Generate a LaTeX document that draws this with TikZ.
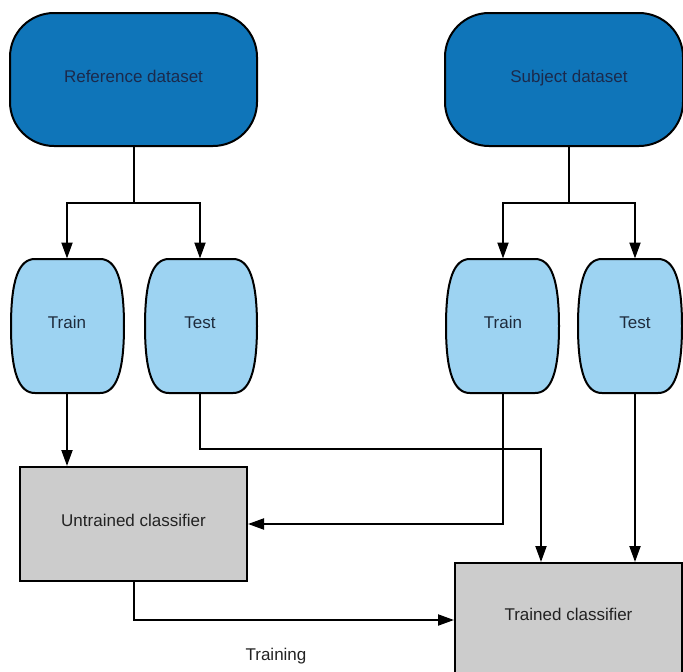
\documentclass[tikz,border=0pt]{standalone}
\usepackage{fontspec}
\setmainfont{Liberation Sans}
\usetikzlibrary{arrows.meta}
\definecolor{dsblue}{HTML}{0F75B9}
\definecolor{splitblue}{HTML}{9DD3F2}
\definecolor{clsgray}{HTML}{CCCCCC}
\definecolor{navytext}{HTML}{1B2A4C}
\definecolor{splittext}{HTML}{1E2B3C}
\definecolor{boxtext}{HTML}{222222}

% barrel-shaped data split outline: left x, right x (top 259, bottom 393)
\newcommand\splitshape[2]{%
  \draw[fill=splitblue]
    ({#1+24},259) -- ({#2-24},259)
    .. controls ({#2-8},259) and (#2,279) .. (#2,326)
    .. controls (#2,373) and ({#2-8},393) .. ({#2-24},393)
    -- ({#1+24},393)
    .. controls ({#1+8},393) and (#1,373) .. (#1,326)
    .. controls (#1,279) and ({#1+8},259) .. cycle;}

\begin{document}
\begin{tikzpicture}[x=1pt,y=-1pt,line width=2pt,
  lbl/.style={font=\fontsize{17}{20}\selectfont,inner sep=0pt,
    text height=12pt,text depth=7pt},
  dataset/.style={lbl,draw,fill=dsblue,text=navytext,rounded corners=44pt,
    minimum height=133pt},
  splitlbl/.style={lbl,text=splittext,minimum width=100pt,minimum height=133pt},
  classifier/.style={lbl,draw,fill=clsgray,text=boxtext,
    minimum width=227pt,minimum height=114pt},
  arr/.style={-{Triangle[length=16pt,width=11pt]}},
]
\useasboundingbox (0,0) rectangle (683,672);
\clip (0,0) rectangle (683,672);

% datasets
\node[dataset,minimum width=247pt] (refds) at (133.5,79.5) {Reference dataset};
\node[dataset,minimum width=238pt] (subjds) at (564,79.5) {\hspace*{10pt}Subject dataset};

% train / test splits
\splitshape{11}{124}
\splitshape{145}{257}
\splitshape{446}{559}
\splitshape{578}{682}
\node[splitlbl] (trL) at (67,326) {Train};
\node[splitlbl] (teL) at (200,326) {Test};
\node[splitlbl] (trR) at (503,326) {Train};
\node[splitlbl] (teR) at (635,326) {Test};

% classifiers
\node[classifier] (untr) at (133.5,524) {Untrained classifier};
\node[classifier] (trd) at (568.5,620) {\raisebox{2pt}{Trained classifier}};

% dataset splitting
\coordinate (refsplit) at (refds.south |- 0,203);
\coordinate (subjsplit) at ([xshift=5pt]subjds.south |- 0,203);
\draw (refds.south) -- (refsplit);
\draw[arr] (refsplit) -| (trL.north);
\draw[arr] (refsplit) -| (teL.north);
\draw ([xshift=5pt]subjds.south) -- (subjsplit);
\draw[arr] (subjsplit) -| (trR.north);
\draw[arr] (subjsplit) -| (teR.north);

% flows into the classifiers
\draw[arr] (trL.south) -- (trL.south |- untr.north);
\coordinate (tebend) at (541,449);
\draw[arr] (teL.south) |- (tebend) -- (tebend |- trd.north);
\draw[arr] (trR.south) |- (untr.east);
\draw[arr] (teR.south) -- (teR.south |- trd.north);
\draw[arr] (untr.south) |- (trd.west);

\node[lbl,text=boxtext] (trlabel) at (276,658) {Training};
\end{tikzpicture}
\end{document}
